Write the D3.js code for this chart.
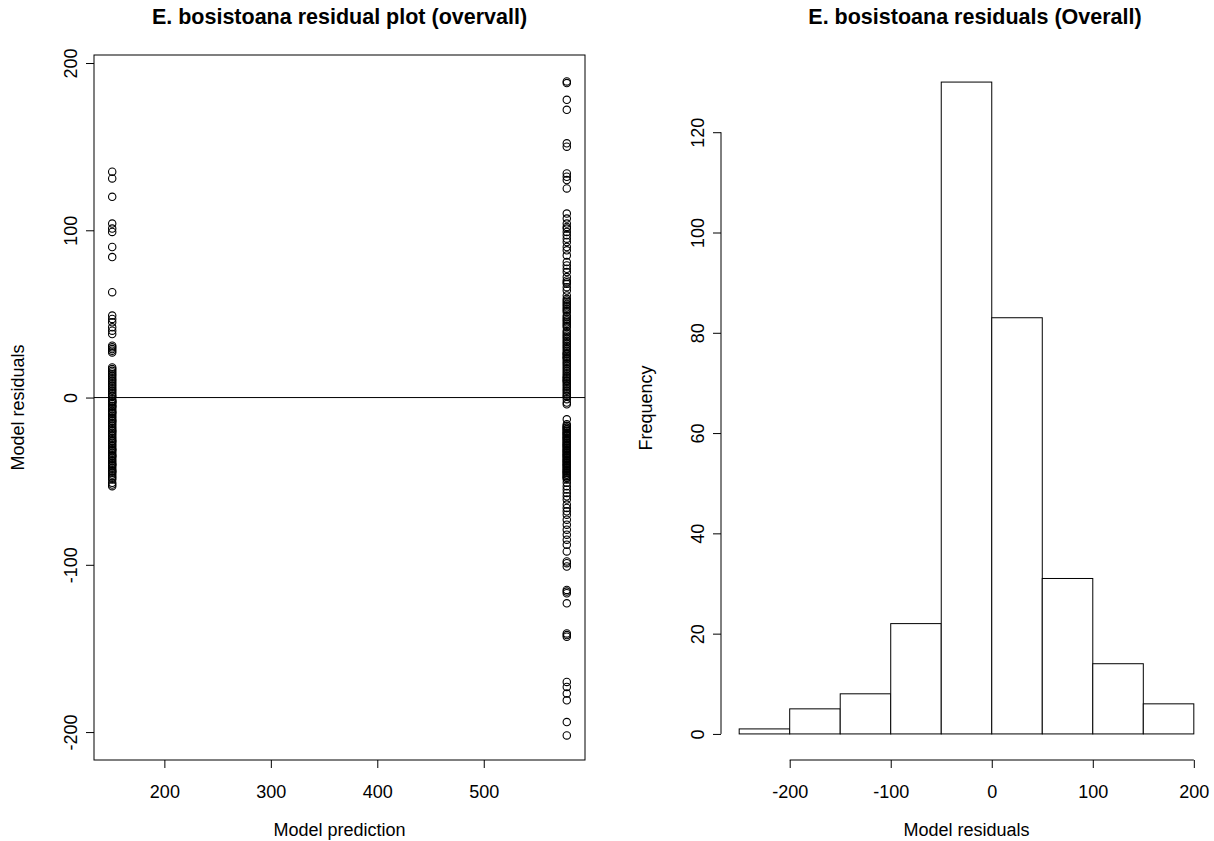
<!DOCTYPE html>
<html><head><meta charset="utf-8">
<script src="https://cdn.jsdelivr.net/npm/d3@7"></script>
<style>
body{margin:0;background:#fff}
text{font-family:"Liberation Sans",Arial,Helvetica,sans-serif;fill:#000}
</style>
</head><body>
<svg id="c" width="1214" height="841"></svg>
<script>
// ---- data ----
const predLow = 151;
const predHigh = 578;
const residLow = [135,131,120,104,101,99,90,84,63,
  49,47,45,42,40,38,31,30,29,28,27,18,17,16,15,14,13,12,11,10,9,8,7,6,5,4,3,2,1,0.5,
  -1,-2,-3,-3,-4,-5,-6,-7,-8,-9,-10,-11,-12,-13,-14,-15,-16,-17,-18,-19,-20,-21,-22,-23,-24,-25,
  -26,-27,-28,-29,-30,-31,-32,-33,-34,-35,-36,-37,-38,-39,-40,-41,-42,-43,-44,-45,-46,-47,-48,-49,
  -2,-5,-9,-14,-20,-26,-31,-35,-40,-44,
  -51,-52,-53];
const residHigh = [189,188,178,172,152,150,
  134,132,130,125,110,107,104,102,101,
  99,97,95,93,90,88,85,81,79,77,75,72,70,69,68,66,64,61,59,58,57,56,55,54,53,52,51,
  49,48,46,45,43,42,40,39,37,36,34,33,31,30,29,27,26,25,24,23,22,21,20,19,18,17,16,15,14,13,12,11,10,9,8,7,6,5,4,3,2,1,0.5,
  47,44,38,35,32,28,26,24,12,10,
  -1,-3,-4,-13,
  -16,-17,-18,-19,-20,-21,-22,-23,-24,-25,-26,-27,-28,-29,-30,-31,-32,-33,-34,-35,-36,-37,-38,-39,-40,-41,-42,-43,-44,-45,-46,-47,-48,-49,
  -18,-20,-22,-24,-26,-28,-30,-32,-34,-36,-38,-40,-42,-44,-46,-48,-19,-23,-27,-31,-35,-39,-43,-47,-21,-25,-29,-33,-37,-41,-45,-17,
  -51,-53,-55,-57,-59,-61,-64,-66,-68,-70,-73,-76,-79,-82,-85,-88,-92,-98,-99,
  -101,-115,-116,-117,-123,-141,-142,-143,
  -170,-173,-177,-181,-194,
  -202];
const binEdges = [-250,-200,-150,-100,-50,0,50,100,150,200];
const binCounts = [1,5,8,22,130,83,31,14,6];
const scatterXTicks = [200,300,400,500];
const scatterYTicks = [-200,-100,0,100,200];
const histXTicks = [-200,-100,0,100,200];
const histYTicks = [0,20,40,60,80,100,120];
const leftTitle = "E. bosistoana residual plot (overvall)";
const rightTitle = "E. bosistoana residuals (Overall)";

// ---- drawing ----
const svg = d3.select("#c");
const FS = 18;
const TFS = 21.5;

// Left scatter
const L = {x0:94, x1:585, y0:55, y1:760};
const xL = d3.scaleLinear().domain([133.9,595.1]).range([L.x0,L.x1]);
const yL = d3.scaleLinear().domain([-216.7,204.8]).range([L.y1,L.y0]);

svg.append("rect").attr("x",L.x0).attr("y",L.y0).attr("width",L.x1-L.x0).attr("height",L.y1-L.y0)
  .attr("fill","none").attr("stroke","#000").attr("stroke-width",1);

const gxL = svg.append("g").attr("transform",`translate(0,${L.y1})`)
  .call(d3.axisBottom(xL).tickValues(scatterXTicks).tickSize(8).tickPadding(17).tickFormat(d3.format("d")));
const gyL = svg.append("g").attr("transform",`translate(${L.x0},0)`)
  .call(d3.axisLeft(yL).tickValues(scatterYTicks).tickSize(8).tickFormat(d=>String(d)));

function styleAxis(g){
  g.select(".domain").remove();
  g.selectAll(".tick line").attr("stroke","#000");
  g.selectAll("text").attr("font-size",FS).style("font-family",'"Liberation Sans",Arial,sans-serif').attr("fill","#000");
}
styleAxis(gxL); styleAxis(gyL);
gyL.selectAll(".tick text").attr("x",null).attr("dy",null)
  .attr("text-anchor","middle").attr("transform","translate(-17,0) rotate(-90)").attr("y",0);

svg.append("line").attr("x1",L.x0).attr("x2",L.x1).attr("y1",yL(0)).attr("y2",yL(0)).attr("stroke","#000");

const pts = residLow.map(r=>({x:predLow,y:r})).concat(residHigh.map(r=>({x:predHigh,y:r})));
svg.append("g").selectAll("circle").data(pts).join("circle")
  .attr("cx",d=>xL(d.x)).attr("cy",d=>yL(d.y)).attr("r",3.7)
  .attr("fill","none").attr("stroke","#000").attr("stroke-width",1.1);

svg.append("text").attr("x",(L.x0+L.x1)/2).attr("y",24).attr("text-anchor","middle")
  .attr("font-size",TFS).attr("font-weight","bold").text(leftTitle);
svg.append("text").attr("x",(L.x0+L.x1)/2).attr("y",836).attr("text-anchor","middle")
  .attr("font-size",FS).text("Model prediction");
svg.append("text").attr("transform",`translate(24,${(L.y0+L.y1)/2}) rotate(-90)`).attr("text-anchor","middle")
  .attr("font-size",FS).text("Model residuals");

// Right histogram
const R = {x0:721, x1:1212, y0:56, y1:760};
const xR = d3.scaleLinear().domain([-268,218]).range([R.x0,R.x1]);
const yR = d3.scaleLinear().domain([-5.2,135.2]).range([R.y1,R.y0]);

const bins = binCounts.map((c,i)=>({a:binEdges[i],b:binEdges[i+1],c}));
svg.append("g").selectAll("rect").data(bins).join("rect")
  .attr("x",d=>xR(d.a)).attr("width",d=>xR(d.b)-xR(d.a))
  .attr("y",d=>yR(d.c)).attr("height",d=>yR(0)-yR(d.c))
  .attr("fill","#fff").attr("stroke","#000").attr("stroke-width",1);

const gxR = svg.append("g").attr("transform",`translate(0,${R.y1})`)
  .call(d3.axisBottom(xR).tickValues(histXTicks).tickSize(8).tickPadding(17).tickFormat(d=>String(d)));
const gyR = svg.append("g").attr("transform",`translate(${R.x0},0)`)
  .call(d3.axisLeft(yR).tickValues(histYTicks).tickSize(8).tickFormat(d=>String(d)));
styleAxis(gxR); styleAxis(gyR);
gyR.selectAll(".tick text").attr("x",null).attr("dy",null)
  .attr("text-anchor","middle").attr("transform","translate(-17,0) rotate(-90)").attr("y",0);
// axis lines spanning tick range (R style)
svg.append("line").attr("x1",xR(histXTicks[0])).attr("x2",xR(histXTicks[histXTicks.length-1]))
  .attr("y1",R.y1).attr("y2",R.y1).attr("stroke","#000");
svg.append("line").attr("x1",R.x0).attr("x2",R.x0)
  .attr("y1",yR(histYTicks[0])).attr("y2",yR(histYTicks[histYTicks.length-1])).attr("stroke","#000");

svg.append("text").attr("x",975).attr("y",24).attr("text-anchor","middle")
  .attr("font-size",TFS).attr("font-weight","bold").text(rightTitle);
svg.append("text").attr("x",(R.x0+R.x1)/2).attr("y",836).attr("text-anchor","middle")
  .attr("font-size",FS).text("Model residuals");
svg.append("text").attr("transform",`translate(652,${(R.y0+R.y1)/2}) rotate(-90)`).attr("text-anchor","middle")
  .attr("font-size",FS).text("Frequency");
</script>
</body></html>
